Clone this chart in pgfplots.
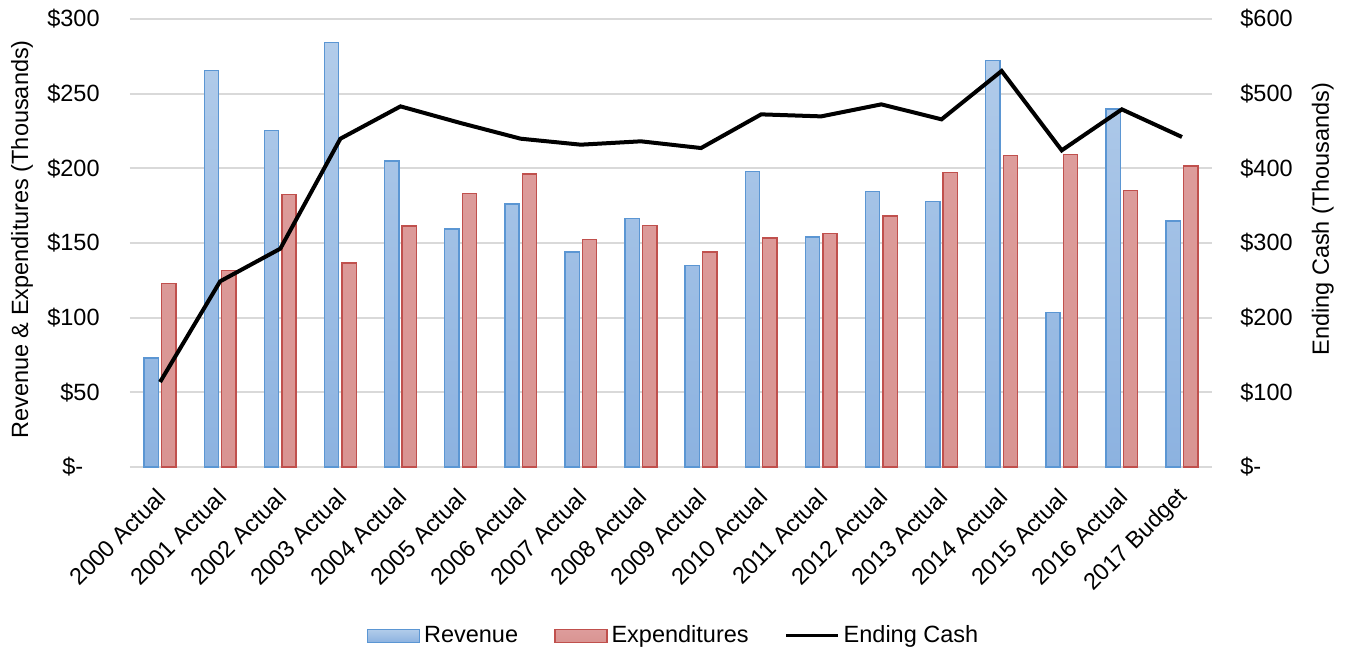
\documentclass[border=0pt]{standalone}
\usepackage{fontspec}
\setmainfont{Liberation Sans}
\usepackage{pgfplots}
\pgfplotsset{compat=1.18}
\usepackage{pgfplotstable}
\newcommand\f{\fontsize{11.75}{14}\selectfont}
\definecolor{revtop}{HTML}{B2CCEA}
\definecolor{revbot}{HTML}{8CB2E0}
\definecolor{revline}{HTML}{5B96D3}
\definecolor{exptop}{HTML}{DD9C9B}
\definecolor{expbot}{HTML}{D99492}
\definecolor{expline}{HTML}{C0504D}
\definecolor{gridc}{HTML}{D9D9D9}

\pgfplotstableread{
x rev exp cash
0  73.0  122.8 113.8
1  265.6 131.7 248.7
2  225.4 182.4 292.4
3  284.2 136.6 439.7
4  204.9 161.4 483.0
5  159.4 183.0 460.7
6  176.1 196.2 439.7
7  144.0 152.5 431.7
8  166.3 161.6 436.2
9  134.8 144.0 427.2
10 198.0 153.3 472.3
11 154.0 156.5 469.6
12 184.4 168.1 485.7
13 177.9 197.3 465.6
14 272.3 208.7 530.4
15 103.3 209.2 424.1
16 239.7 185.3 479.0
17 164.7 201.6 442.0
}\datatable

\begin{document}
\begin{tikzpicture}
\useasboundingbox (-65pt,-91pt) rectangle (609pt,233.5pt);
\begin{axis}[
  scale only axis,
  width=541pt, height=224pt,
  xmin=-0.5, xmax=17.5,
  ymin=0, ymax=300,
  ybar=1.6pt, bar width=7.15pt,
  xtick={0,...,17},
  xticklabels={2000 Actual,2001 Actual,2002 Actual,2003 Actual,2004 Actual,2005 Actual,2006 Actual,2007 Actual,2008 Actual,2009 Actual,2010 Actual,2011 Actual,2012 Actual,2013 Actual,2014 Actual,2015 Actual,2016 Actual,2017 Budget},
  ytick={0,50,100,150,200,250,300},
  yticklabels={\$-\hspace*{0.7em},\$50,\$100,\$150,\$200,\$250,\$300},
  axis line style={draw=none},
  major tick length=0pt,
  tick style={draw=none},
  ymajorgrids,
  grid style={gridc, line width=0.85pt},
  xticklabel style={font=\f, inner sep=0pt, xshift=1pt, yshift=-13pt, rotate=45, anchor=east},
  yticklabel style={font=\f, inner sep=0pt, xshift=-15pt, anchor=east},
  /pgf/number format/assume math mode=true,
  every axis y label/.style={at={(axis description cs:-0.0997,0.508)}, rotate=90, anchor=center, font=\f},
  ylabel={Revenue \& Expenditures (Thousands)},
]
\addplot[draw=revline, line width=0.7pt, top color=revtop, bottom color=revbot] table[x=x, y=rev] {\datatable};
\addplot[draw=expline, line width=0.7pt, top color=exptop, bottom color=expbot] table[x=x, y=exp] {\datatable};
\end{axis}
\begin{axis}[
  scale only axis,
  width=541pt, height=224pt,
  xmin=-0.5, xmax=17.5,
  ymin=0, ymax=600,
  xtick=\empty,
  ytick={0,100,200,300,400,500,600},
  yticklabels={\$-,\$100,\$200,\$300,\$400,\$500,\$600},
  yticklabel pos=right,
  axis line style={draw=none},
  major tick length=0pt,
  tick style={draw=none},
  yticklabel style={font=\f, inner sep=0pt, xshift=14pt, anchor=west},
  /pgf/number format/assume math mode=true,
  every axis y label/.style={at={(axis description cs:1.1025,0.5536)}, rotate=90, anchor=center, font=\f},
  ylabel={Ending Cash (Thousands)},
  legend columns=3,
  legend style={draw=none, fill=none, font=\f, at={(axis description cs:0.5032,-0.377)}, anchor=center,
    /tikz/every even column/.append style={column sep=16pt}},
]
\addlegendimage{legend image code/.code={\draw[draw=revline, line width=0.7pt, top color=revtop, bottom color=revbot] (0pt,-3.25pt) rectangle (26pt,3.25pt);}}
\addlegendentry{Revenue}
\addlegendimage{legend image code/.code={\draw[draw=expline, line width=0.7pt, top color=exptop, bottom color=expbot] (0pt,-3.25pt) rectangle (26pt,3.25pt);}}
\addlegendentry{Expenditures}
\addplot[black, line width=2pt, mark=none, legend image code/.code={\draw[black, line width=1.5pt] (0pt,0pt) -- (26pt,0pt);}] table[x=x, y=cash] {\datatable};
\addlegendentry{Ending Cash}
\end{axis}
\end{tikzpicture}
\end{document}
